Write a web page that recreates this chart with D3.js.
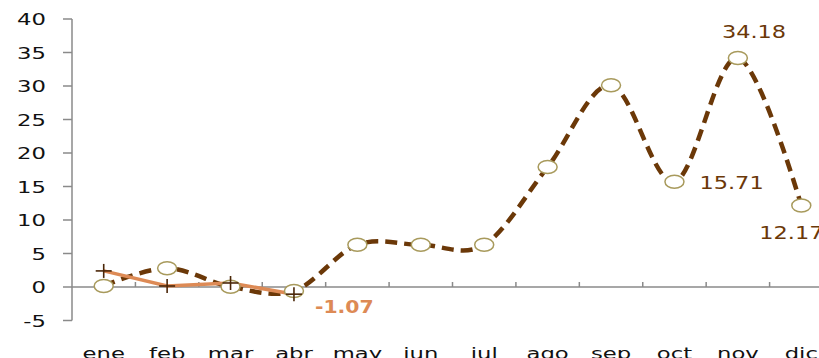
<!DOCTYPE html>
<html lang="es">
<head>
<meta charset="UTF-8" />
<script src="https://cdn.jsdelivr.net/npm/d3@7"></script>
<style>
  body { margin: 0; background: #fff; }
  text { font-family: "DejaVu Sans", Verdana, sans-serif; }
</style>
</head>
<body>
<script>
const width = 819;
const height = 358;

const months = ["ene", "feb", "mar", "abr", "may", "jun", "jul", "ago", "sep", "oct", "nov", "dic"];
const serieA = [0.15, 2.8, 0.05, -0.6, 6.3, 6.3, 6.3, 17.9, 30.1, 15.71, 34.18, 12.17];
const serieB = [2.4, 0.15, 0.6, -1.07];
const yTicks = [-5, 0, 5, 10, 15, 20, 25, 30, 35, 40];
// etiquetas de datos: [mes, texto, dx, dy, fondo]
const labelsA = [["nov", "34.18", -16, -20, false], ["oct", "15.71", 25, 7, false], ["dic", "12.17", -42, 34, true]];
const labelB = ["abr", "-1.07", 21, 19];

const sx = 1.42; // texto estirado en horizontal como el original

const svg = d3.select("body").append("svg")
  .attr("width", width)
  .attr("height", height);

const x = d3.scaleBand().domain(months).range([72, 833]);
const y = d3.scaleLinear().domain([-5, 40]).range([320.5, 19]);
const cx = (m) => x(m) + x.bandwidth() / 2;

const axisColor = "#8a8a8a";

// eje Y
svg.append("line")
  .attr("x1", 72).attr("x2", 72)
  .attr("y1", y(40)).attr("y2", y(-5))
  .attr("stroke", axisColor).attr("stroke-width", 1.5);
svg.selectAll(".ytick").data(yTicks).enter().append("line")
  .attr("x1", 63).attr("x2", 72)
  .attr("y1", (d) => y(d)).attr("y2", (d) => y(d))
  .attr("stroke", axisColor).attr("stroke-width", 1.5);
svg.selectAll(".ylab").data(yTicks).enter().append("text")
  .attr("transform", (d) => `translate(46,${y(d) + 6}) scale(${sx},1)`)
  .attr("text-anchor", "end")
  .attr("font-size", 16)
  .attr("fill", "#111")
  .text((d) => d);

// eje X en cero
svg.append("line")
  .attr("x1", 72).attr("x2", width)
  .attr("y1", y(0)).attr("y2", y(0))
  .attr("stroke", axisColor).attr("stroke-width", 1.5);
svg.selectAll(".xtick").data(months).enter().append("line")
  .attr("x1", (d) => x(d) + x.bandwidth()).attr("x2", (d) => x(d) + x.bandwidth())
  .attr("y1", y(0) - 5).attr("y2", y(0))
  .attr("stroke", axisColor).attr("stroke-width", 1.5);
svg.selectAll(".xlab").data(months).enter().append("text")
  .attr("transform", (d) => `translate(${cx(d)},359) scale(${sx},1)`)
  .attr("text-anchor", "middle")
  .attr("font-size", 16)
  .attr("fill", "#111")
  .text((d) => d);

// serie A: curva suavizada discontinua
const lineA = d3.line()
  .x((d, i) => cx(months[i]))
  .y((d) => y(d))
  .curve(d3.curveCardinal);
svg.append("path")
  .datum(serieA)
  .attr("d", lineA)
  .attr("fill", "none")
  .attr("stroke", "#6b3808")
  .attr("stroke-width", 4.5)
  .attr("stroke-dasharray", "12 7");

// serie B: línea continua naranja
const lineB = d3.line()
  .x((d, i) => cx(months[i]))
  .y((d) => y(d));
svg.append("path")
  .datum(serieB)
  .attr("d", lineB)
  .attr("fill", "none")
  .attr("stroke", "#dd8a55")
  .attr("stroke-width", 3.5);

// marcadores serie A
svg.selectAll(".mA").data(serieA).enter().append("ellipse")
  .attr("cx", (d, i) => cx(months[i]))
  .attr("cy", (d) => y(d))
  .attr("rx", 9.5).attr("ry", 6.5)
  .attr("fill", "#fff")
  .attr("stroke", "#a89a5c")
  .attr("stroke-width", 1.5);

// marcadores serie B (+)
const plus = svg.selectAll(".mB").data(serieB).enter().append("g")
  .attr("transform", (d, i) => `translate(${cx(months[i])},${y(d)})`);
plus.append("line").attr("x1", -8).attr("x2", 8).attr("y1", 0).attr("y2", 0)
  .attr("stroke", "#4a2608").attr("stroke-width", 1.6);
plus.append("line").attr("x1", 0).attr("x2", 0).attr("y1", -7).attr("y2", 7)
  .attr("stroke", "#4a2608").attr("stroke-width", 1.6);

// etiquetas serie A
labelsA.forEach(([m, t, dx, dy, bg]) => {
  const i = months.indexOf(m);
  const px = cx(m) + dx, py = y(serieA[i]) + dy;
  if (bg) {
    svg.append("rect")
      .attr("x", px - 10).attr("y", py - 21)
      .attr("width", 80).attr("height", 28)
      .attr("fill", "#fff");
  }
  svg.append("text")
    .attr("transform", `translate(${px},${py}) scale(1.32,1)`)
    .attr("font-size", 17)
    .attr("fill", "#6b3808")
    .text(t);
});

// etiqueta serie B
{
  const [m, t, dx, dy] = labelB;
  const i = months.indexOf(m);
  svg.append("text")
    .attr("transform", `translate(${cx(m) + dx},${y(serieB[i]) + dy}) scale(1.2,1)`)
    .attr("font-size", 17)
    .attr("font-weight", "bold")
    .attr("fill", "#dd8a55")
    .text(t);
}
</script>
</body>
</html>
